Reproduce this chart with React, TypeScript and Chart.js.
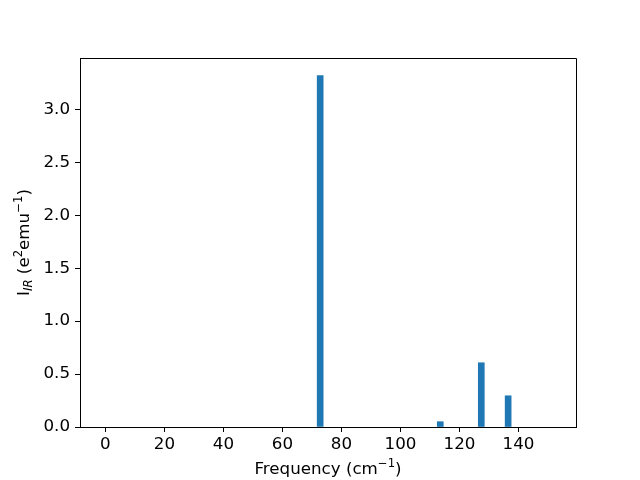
import React, { useEffect, useRef } from "react";
import { Chart, registerables } from "chart.js";

Chart.register(...registerables);

const frequencies = [72.8, 113.5, 127.4, 136.5];
const intensities = [3.32, 0.05, 0.607, 0.295];
const xTicks = [0, 20, 40, 60, 80, 100, 120, 140];
const yTicks = [0, 0.5, 1.0, 1.5, 2.0, 2.5, 3.0];
const xRange = [-8.6, 159.5];
const yRange = [0, 3.486];

const FONT = "DejaVu Sans";
const FS = 16.7;

type Seg = { text: string; scale?: number; dy?: number; italic?: boolean };

function drawRich(ctx: CanvasRenderingContext2D, segs: Seg[], cx: number, cy: number, rot: number) {
  ctx.save();
  ctx.translate(cx, cy);
  ctx.rotate(rot);
  ctx.fillStyle = "#000";
  ctx.textBaseline = "middle";
  ctx.textAlign = "left";
  const fontOf = (s: Seg) => `${s.italic ? "italic " : ""}${Math.round(FS * (s.scale ?? 1) * 10) / 10}px "${FONT}"`;
  let total = 0;
  for (const s of segs) {
    ctx.font = fontOf(s);
    total += ctx.measureText(s.text).width;
  }
  let x = -total / 2;
  for (const s of segs) {
    ctx.font = fontOf(s);
    ctx.fillText(s.text, x, s.dy ?? 0);
    x += ctx.measureText(s.text).width;
  }
  ctx.restore();
}

const framePlugin = {
  id: "frameAndTitles",
  afterDraw(chart: any) {
    const { ctx, chartArea } = chart;
    const { left, right, top, bottom } = chartArea;
    ctx.save();
    ctx.strokeStyle = "#000";
    ctx.lineWidth = 1;
    ctx.beginPath();
    ctx.moveTo(left + 0.5, bottom + 0.5);
    ctx.lineTo(left + 0.5, top + 0.5);
    ctx.lineTo(right + 0.5, top + 0.5);
    ctx.lineTo(right + 0.5, bottom + 0.5);
    ctx.lineTo(left + 0.5, bottom + 0.5);
    ctx.stroke();
    ctx.restore();
    drawRich(
      ctx,
      [
        { text: "Frequency (cm" },
        { text: "\u22121", scale: 0.7, dy: -6 },
        { text: ")" },
      ],
      (left + right) / 2,
      470,
      0
    );
    drawRich(
      ctx,
      [
        { text: "I" },
        { text: "IR", scale: 0.7, dy: 4, italic: true },
        { text: " (e" },
        { text: "2", scale: 0.7, dy: -6 },
        { text: "emu" },
        { text: "\u22121", scale: 0.7, dy: -6 },
        { text: ")" },
      ],
      25,
      (top + bottom) / 2,
      -Math.PI / 2
    );
  },
};

export default function App() {
  const ref = useRef<HTMLCanvasElement>(null);
  useEffect(() => {
    if (!ref.current) return;
    const chart = new Chart(ref.current, {
      type: "bar",
      data: {
        datasets: [
          {
            data: frequencies.map((f, i) => ({ x: f, y: intensities[i] })),
            backgroundColor: "#1f77b4",
            borderWidth: 0,
            barThickness: 6,
          },
        ],
      },
      options: {
        animation: false,
        responsive: false,
        devicePixelRatio: 1,
        layout: { padding: { left: 0, right: 64, top: 58, bottom: 0 } },
        plugins: { legend: { display: false }, tooltip: { enabled: false } },
        scales: {
          x: {
            type: "linear",
            min: xRange[0],
            max: xRange[1],
            offset: false,
            afterBuildTicks: (s: any) => {
              s.ticks = xTicks.map((v) => ({ value: v }));
            },
            afterFit: (s: any) => {
              s.height = 53;
            },
            grid: { offset: false, drawOnChartArea: false, drawTicks: true, tickLength: 5, color: "#000" },
            border: { display: true, color: "#000", width: 1 },
            ticks: {
              color: "#000",
              font: { family: FONT, size: FS },
              padding: 3,
              maxRotation: 0,
              autoSkip: false,
              callback: (v: any) => String(v),
            },
          },
          y: {
            type: "linear",
            min: yRange[0],
            max: yRange[1],
            afterBuildTicks: (s: any) => {
              s.ticks = yTicks.map((v) => ({ value: v }));
            },
            afterFit: (s: any) => {
              s.width = 80;
            },
            grid: { drawOnChartArea: false, drawTicks: true, tickLength: 5, color: "#000" },
            border: { display: true, color: "#000", width: 1 },
            ticks: {
              color: "#000",
              font: { family: FONT, size: FS },
              padding: 5,
              autoSkip: false,
              callback: (v: any) => Number(v).toFixed(1),
            },
          },
        },
      },
      plugins: [framePlugin],
    });
    return () => chart.destroy();
  }, []);
  return (
    <div style={{ position: "absolute", left: 0, top: 0, width: 640, height: 480, background: "#fff" }}>
      <canvas ref={ref} width={640} height={480} style={{ width: 640, height: 480 }} />
    </div>
  );
}
